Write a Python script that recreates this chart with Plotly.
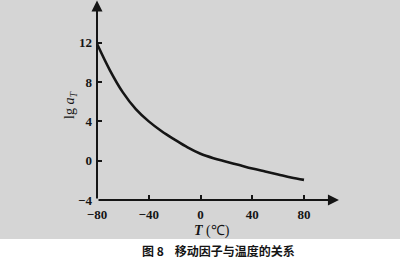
import plotly.graph_objects as go

temps = [-80, -70, -60, -50, -40, -30, -20, -10, 0, 10, 20, 30, 40, 50, 60, 70, 80]
lg_aT = [11.9, 9.2, 6.95, 5.25, 4.0, 3.0, 2.15, 1.35, 0.7, 0.25, -0.1, -0.45, -0.8, -1.1, -1.4, -1.7, -1.95]
x_ticks = [-80, -40, 0, 40, 80]
y_ticks = [-4, 0, 4, 8, 12]
caption = "图 8    移动因子与温度的关系"

W, H = 400, 263
ML, MR, MT, MB = 97, 55, 0, 63
XR = [-80, 111.7]
YR = [-4, 16.35]
BG = "#d5d5d5"
INK = "#151515"
tickfont = dict(family="Liberation Serif, DejaVu Serif, serif", size=13, color=INK, weight="bold")

fig = go.Figure()
fig.add_trace(go.Scatter(x=temps, y=lg_aT, mode="lines",
                         line=dict(color=INK, width=2.6, shape="spline", smoothing=1.0),
                         hoverinfo="skip", showlegend=False))

fig.update_layout(
    width=W, height=H,
    margin=dict(l=ML, r=MR, t=MT, b=MB, pad=0),
    paper_bgcolor="white", plot_bgcolor=BG,
    xaxis=dict(range=XR, tickvals=x_ticks, ticks="inside", ticklen=5, tickwidth=1.5,
               tickcolor=INK, showgrid=False, zeroline=False, showline=False,
               tickfont=tickfont, ticklabelstandoff=5, fixedrange=True),
    yaxis=dict(range=YR, tickvals=y_ticks, ticks="inside", ticklen=5, tickwidth=1.5,
               tickcolor=INK, showgrid=False, zeroline=False, showline=False,
               tickfont=tickfont, ticklabelstandoff=4, fixedrange=True),
    showlegend=False,
)

# gray scanned-page background over upper part
fig.add_shape(type="rect", xref="paper", yref="paper", x0=-ML / (W - ML - MR), x1=1 + MR / (W - ML - MR),
              y0=1 - 239 / (H - MT - MB), y1=1, fillcolor=BG, line=dict(width=0), layer="below")

# axes with arrows
fig.add_annotation(x=-80, y=YR[1] - 0.05, ax=-80, ay=-4, xref="x", yref="y", axref="x", ayref="y",
                   showarrow=True, arrowhead=2, arrowsize=1.1, arrowwidth=2, arrowcolor=INK, text="")
fig.add_annotation(x=107, y=-4, ax=-80, ay=-4, xref="x", yref="y", axref="x", ayref="y",
                   showarrow=True, arrowhead=2, arrowsize=1.1, arrowwidth=2, arrowcolor=INK, text="")

# axis titles
fig.add_annotation(x=70, y=105, text="lg <i>a</i><sub><i>T</i></sub>",
                   showarrow=False, textangle=-90,
                   font=dict(family="Liberation Serif, serif", size=14, color=INK))
fig.add_annotation(x=212, y=231, text="<b><i>T</i></b> (℃)", showarrow=False,
                   font=dict(family="Liberation Serif, serif", size=14, color=INK))
fig.add_annotation(x=218, y=251, text="<b>" + caption + "</b>", showarrow=False,
                   font=dict(family="Noto Sans CJK SC, sans-serif", size=12, color=INK))

# convert pixel positions of text annotations to paper coords
pw, ph = W - ML - MR, H - MT - MB
for a in fig.layout.annotations[2:]:
    a.xref = "paper"; a.yref = "paper"
    a.xanchor = "center"; a.yanchor = "middle"
    px, py = a.x, a.y
    a.x = (px - ML) / pw
    a.y = 1 - (py - MT) / ph

fig.write_html("out.html")
